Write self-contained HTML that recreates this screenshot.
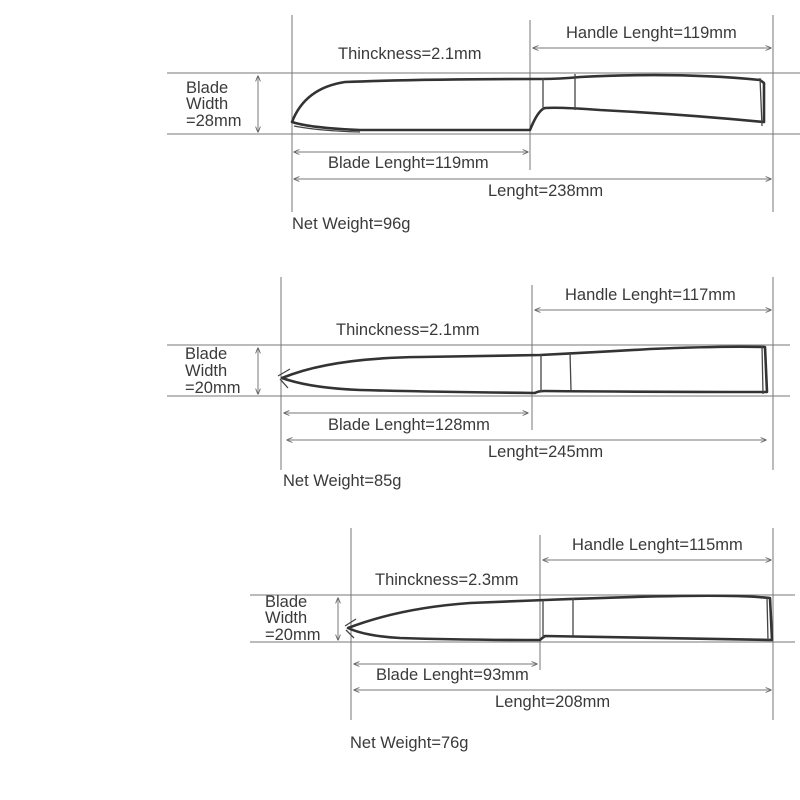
<!DOCTYPE html>
<html><head><meta charset="utf-8"><style>
html,body{margin:0;padding:0;background:#fff;width:800px;height:800px;overflow:hidden}
text{font-family:"Liberation Sans",sans-serif;font-size:16.5px;fill:#3a3a3a}
.g{stroke:#777;stroke-width:1;fill:none}
.k{stroke:#333;stroke-width:2.6;fill:none;stroke-linejoin:round;stroke-linecap:round}
.t{stroke:#444;stroke-width:1.3;fill:none}
</style></head><body>
<svg width="800" height="800" viewBox="0 0 800 800" xmlns="http://www.w3.org/2000/svg">
<defs>
<marker id="a" viewBox="0 0 10 10" refX="9" refY="5" markerWidth="6" markerHeight="6" orient="auto-start-reverse"><path d="M0,1 L10,5 L0,9" fill="none" stroke="#666" stroke-width="1.5"/></marker>
</defs>
<!-- Knife 1 -->
<g class="g">
<line x1="292" y1="15" x2="292" y2="212"/><line x1="530" y1="20" x2="530" y2="170"/><line x1="773" y1="15" x2="773" y2="212"/>
<line x1="167" y1="73" x2="800" y2="73"/><line x1="167" y1="134" x2="800" y2="134"/>
<line x1="258" y1="76" x2="258" y2="132" marker-start="url(#a)" marker-end="url(#a)"/>
<line x1="533" y1="48" x2="771" y2="48" marker-start="url(#a)" marker-end="url(#a)"/>
<line x1="294" y1="152" x2="528" y2="152" marker-start="url(#a)" marker-end="url(#a)"/>
<line x1="294" y1="179" x2="771" y2="179" marker-start="url(#a)" marker-end="url(#a)"/>
</g>
<path class="k" d="M292,122 Q305,88 345,82 Q420,79 540,79 Q560,79 580,77 Q680,72 760,80 L764,83 L764,122 Q680,114 600,110 Q560,107 545,108 Q538,110 530,130 L360,130 Q310,128 292,122 Z"/>
<path class="t" d="M543,78 L543,110 M575,74 L575,110 M760,78 L762,126 M294,126 Q320,131 360,132"/>
<text x="186" y="93">Blade</text><text x="186" y="109">Width</text><text x="186" y="126">=28mm</text>
<text x="566" y="38">Handle Lenght=119mm</text>
<text x="338" y="59">Thinckness=2.1mm</text>
<text x="328" y="168">Blade Lenght=119mm</text>
<text x="488" y="196">Lenght=238mm</text>
<text x="292" y="229">Net Weight=96g</text>
<!-- Knife 2 -->
<g class="g">
<line x1="281" y1="277" x2="281" y2="470"/><line x1="532" y1="285" x2="532" y2="430"/><line x1="773" y1="277" x2="773" y2="470"/>
<line x1="167" y1="345" x2="790" y2="345"/><line x1="167" y1="396" x2="790" y2="396"/>
<line x1="258" y1="348" x2="258" y2="394" marker-start="url(#a)" marker-end="url(#a)"/>
<line x1="535" y1="310" x2="771" y2="310" marker-start="url(#a)" marker-end="url(#a)"/>
<line x1="284" y1="413" x2="528" y2="413" marker-start="url(#a)" marker-end="url(#a)"/>
<line x1="287" y1="440" x2="766" y2="440" marker-start="url(#a)" marker-end="url(#a)"/>
</g>
<path class="k" d="M282,378 Q330,358 420,357 L540,355 Q600,352 650,349 Q720,346 765,347 L767,392 Q650,392 545,391 Q538,391 535,393 Q440,392 360,390 Q310,388 282,378 Z"/>
<path class="t" d="M541,354 L541,392 M570,352 L571,390 M762,346 L763,394 M278,376 L290,369 M280,379 L288,388"/>
<text x="185" y="359">Blade</text><text x="185" y="376">Width</text><text x="185" y="393">=20mm</text>
<text x="565" y="300">Handle Lenght=117mm</text>
<text x="336" y="335">Thinckness=2.1mm</text>
<text x="328" y="430">Blade Lenght=128mm</text>
<text x="488" y="457">Lenght=245mm</text>
<text x="283" y="486">Net Weight=85g</text>
<!-- Knife 3 -->
<g class="g">
<line x1="351" y1="528" x2="351" y2="720"/><line x1="540" y1="535" x2="540" y2="670"/><line x1="773" y1="528" x2="773" y2="720"/>
<line x1="250" y1="595" x2="795" y2="595"/><line x1="250" y1="642" x2="795" y2="642"/>
<line x1="338" y1="598" x2="338" y2="640" marker-start="url(#a)" marker-end="url(#a)"/>
<line x1="543" y1="560" x2="771" y2="560" marker-start="url(#a)" marker-end="url(#a)"/>
<line x1="354" y1="664" x2="537" y2="664" marker-start="url(#a)" marker-end="url(#a)"/>
<line x1="354" y1="690" x2="771" y2="690" marker-start="url(#a)" marker-end="url(#a)"/>
</g>
<path class="k" d="M348,628 Q400,608 470,603 L545,600 Q620,597 680,596 Q740,595 770,598 L772,640 Q660,638 545,636 Q542,638 540,640 Q460,640 400,638 Q365,636 348,628 Z"/>
<path class="t" d="M543,600 L543,637 M573,598 L573,636 M767,598 L768,640 M345,626 L356,619 M346,630 L354,638"/>
<text x="265" y="607">Blade</text><text x="265" y="623">Width</text><text x="265" y="640">=20mm</text>
<text x="572" y="550">Handle Lenght=115mm</text>
<text x="375" y="585">Thinckness=2.3mm</text>
<text x="376" y="680">Blade Lenght=93mm</text>
<text x="495" y="707">Lenght=208mm</text>
<text x="350" y="748">Net Weight=76g</text>
</svg>
</body></html>
